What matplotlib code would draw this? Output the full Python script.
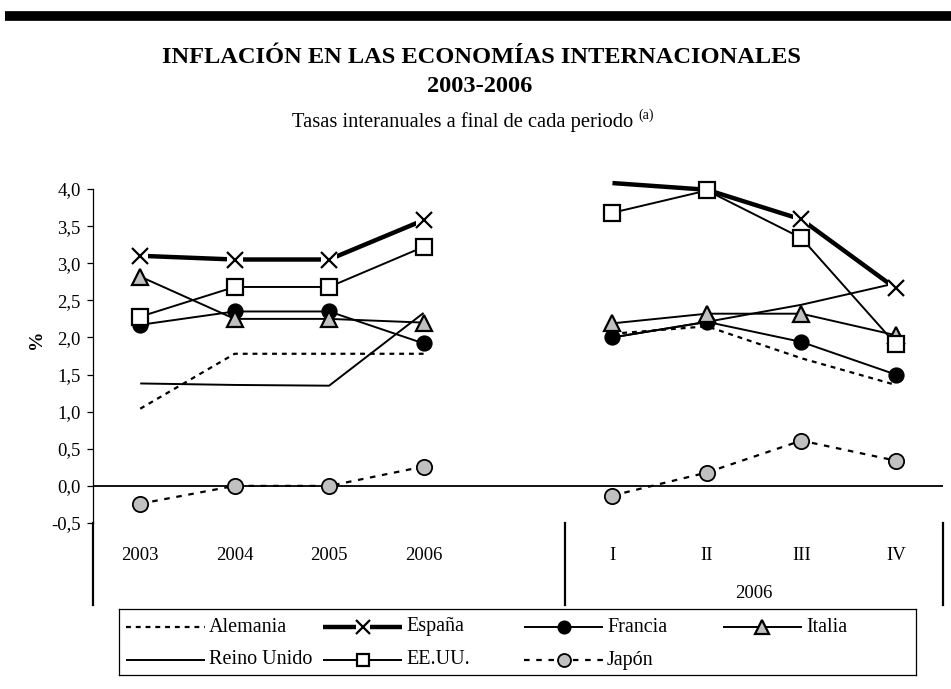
import matplotlib
matplotlib.use('Agg')
import matplotlib.pyplot as plt

plt.rcParams['font.family'] = ['Liberation Serif', 'DejaVu Serif']

# Categories
years = ['2003', '2004', '2005', '2006']
quarters = ['I', 'II', 'III', 'IV']
quarter_year = '2006'
yticks = [-0.5, 0.0, 0.5, 1.0, 1.5, 2.0, 2.5, 3.0, 3.5, 4.0]
ytick_labels = ['-0,5', '0,0', '0,5', '1,0', '1,5', '2,0', '2,5', '3,0', '3,5', '4,0']

# Annual values (left) and 2006 quarters (right), in %
alemania_y = [1.04, 1.78, 1.78, 1.78]
alemania_q = [2.05, 2.15, 1.72, 1.36]
espana_y = [3.10, 3.05, 3.05, 3.58]
espana_q = [4.08, 3.99, 3.59, 2.66]
francia_y = [2.17, 2.35, 2.35, 1.92]
francia_q = [2.00, 2.21, 1.94, 1.50]
italia_y = [2.82, 2.25, 2.25, 2.20]
italia_q = [2.19, 2.32, 2.32, 2.03]
reino_y = [1.38, 1.36, 1.35, 2.33]
reino_q = [2.00, 2.21, 2.44, 2.73]
eeuu_y = [2.28, 2.68, 2.68, 3.22]
eeuu_q = [3.68, 3.98, 3.34, 1.91]
japon_y = [-0.24, 0.00, 0.00, 0.26]
japon_q = [-0.13, 0.18, 0.61, 0.34]

grey = '#c0c0c0'
thin = 1.4

# name, annual, quarterly, line style, marker style
series = [
    ('Alemania', alemania_y, alemania_q,
     dict(lw=1.6, ls=(0, (2.2, 2.2))), None),
    ('España', espana_y, espana_q,
     dict(lw=3.2, ls='-'), dict(marker='x', ms=12, mew=1.6, mfc='none')),
    ('Francia', francia_y, francia_q,
     dict(lw=thin, ls='-'), dict(marker='o', ms=10.5, mew=1.2, mfc='black')),
    ('Italia', italia_y, italia_q,
     dict(lw=thin, ls='-'), dict(marker='^', ms=12, mew=1.6, mfc=grey)),
    ('Reino Unido', reino_y, reino_q,
     dict(lw=thin, ls='-'), None),
    ('EE.UU.', eeuu_y, eeuu_q,
     dict(lw=thin, ls='-'), dict(marker='s', ms=11, mew=1.6, mfc='white')),
    ('Japón', japon_y, japon_q,
     dict(lw=1.6, ls=(0, (2.5, 3))), dict(marker='o', ms=11, mew=1.3, mfc=grey)),
]

x_years = [0, 1, 2, 3]
x_quarters = [5, 6, 7, 8]

fig = plt.figure(figsize=(9.51, 6.89), dpi=100)
W, H = 951, 689
ax = fig.add_axes([93 / W, 1 - 523 / H, 850 / W, 334 / H])

# lines first, markers on top (as in the original spreadsheet chart)
for i, (name, ya, yq, lstyle, mstyle) in enumerate(series):
    for xs, ys in ((x_years, ya), (x_quarters, yq)):
        ax.plot(xs, ys, color='black', zorder=2, clip_on=False,
                solid_capstyle='butt', dash_capstyle='butt', **lstyle)
for i, (name, ya, yq, lstyle, mstyle) in enumerate(series):
    if mstyle is None:
        continue
    for xs, ys in ((x_years, ya), (x_quarters, yq)):
        px = [x for x, y in zip(xs, ys) if y <= 4.0]
        py = [y for y in ys if y <= 4.0]
        if mstyle['marker'] == 'x':
            ax.plot(px, py, ls='none', marker='s', ms=12, mfc='white', mew=0,
                    zorder=3 + i * 0.01)
        ax.plot(px, py, ls='none', color='black', mec='black',
                zorder=3 + i * 0.01 + 0.001, clip_on=False, **mstyle)

ax.set_xlim(-0.5, 8.5)
ax.set_ylim(-0.5, 4.0)
ax.axhline(0, color='black', lw=1.3, zorder=1)

ax.set_yticks(yticks)
ax.set_yticklabels(ytick_labels)
ax.tick_params(axis='y', length=4, width=0.9, pad=5, labelsize=13.5)
ax.set_xticks(x_years + x_quarters)
ax.set_xticklabels(years + quarters)
ax.tick_params(axis='x', length=0, pad=17, labelsize=13.5)

for side in ('top', 'right', 'bottom'):
    ax.spines[side].set_visible(False)
ax.spines['left'].set_linewidth(0.9)

ax.set_ylabel('%', fontsize=14, fontweight='bold')
ax.yaxis.set_label_coords(-0.057, 0.55)

# category group separators and second-level label
trans = ax.get_xaxis_transform()
for xv in (-0.5, 4.5, 8.5):
    ax.plot([xv, xv], [0, -0.245], color='black', lw=1.6, transform=trans,
            clip_on=False)
ax.text(6.5, -0.21, quarter_year, transform=trans, ha='center', va='center',
        fontsize=13.5)

# titles
fig.text(481 / W, 1 - 63 / H, 'INFLACIÓN EN LAS ECONOMÍAS INTERNACIONALES',
         ha='center', va='baseline', fontsize=17.6, fontweight='bold')
fig.text(480 / W, 1 - 92 / H, '2003-2006', ha='center', va='baseline',
         fontsize=17.6, fontweight='bold')
fig.text(292 / W, 1 - 127 / H, 'Tasas interanuales a final de cada periodo',
         ha='left', va='baseline', fontsize=14.8)
fig.text(638 / W, 1 - 119 / H, '(a)', ha='left', va='baseline', fontsize=10)

# top rule
fig.add_artist(plt.Line2D([5 / W, 1], [1 - 16 / H, 1 - 16 / H], color='black',
                          lw=7, solid_capstyle='butt'))

# legend box
lax = fig.add_axes([119 / W, 1 - 675 / H, 797 / W, 66 / H])
lax.set_xlim(0, 797)
lax.set_ylim(0, 66)
lax.set_xticks([])
lax.set_yticks([])
for sp in lax.spines.values():
    sp.set_linewidth(0.9)
col_x = [7, 204, 405, 604]
row_y = [48, 15]
hl = 79
for k, (name, ya, yq, lstyle, mstyle) in enumerate(series):
    hx = col_x[k % 4]
    hy = row_y[k // 4]
    lax.plot([hx, hx + hl], [hy, hy], color='black',
             solid_capstyle='butt', dash_capstyle='butt', **lstyle)
    if mstyle is not None:
        ms = dict(mstyle)
        ms['ms'] = ms['ms'] * 0.85
        if ms['marker'] == 'x':
            lax.plot([hx + hl / 2], [hy], marker='s', ms=10, mfc='white', mew=0)
        lax.plot([hx + hl / 2], [hy], ls='none', color='black', mec='black', **ms)
    lax.text(hx + hl + 4, hy, name, ha='left', va='center', fontsize=14.5)

fig.savefig('out.png', dpi=100)
